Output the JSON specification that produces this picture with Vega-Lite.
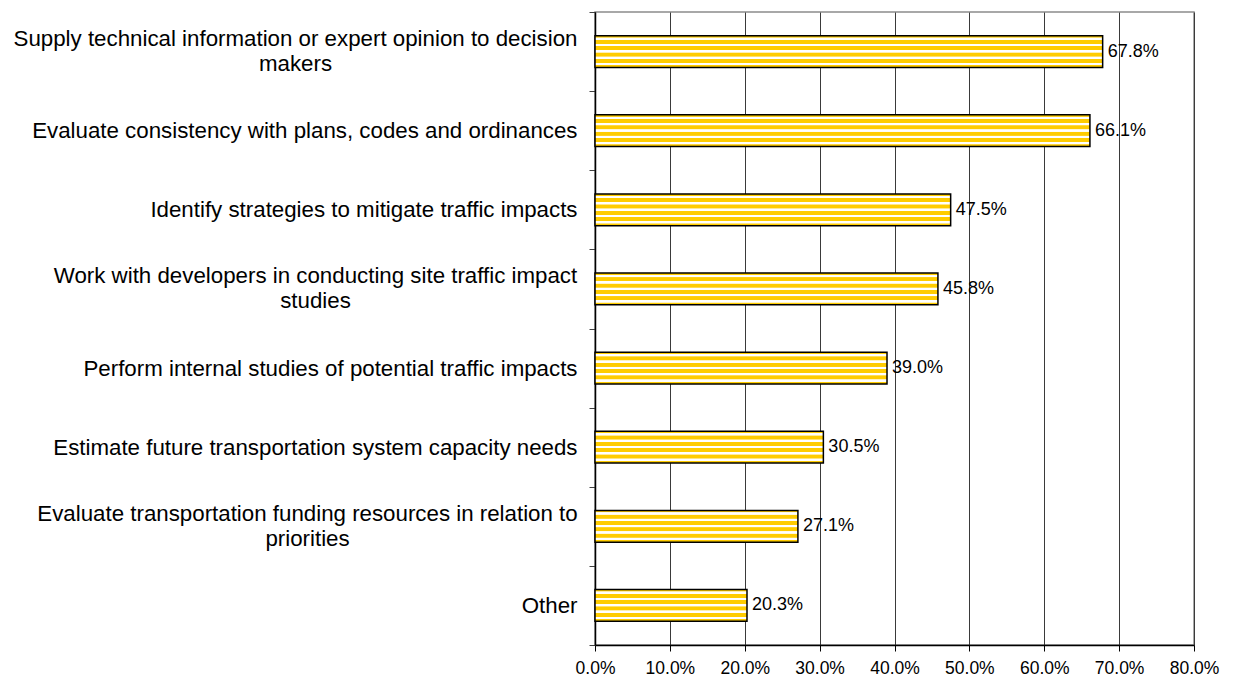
{
  "$schema": "https://vega.github.io/schema/vega-lite/v6.json",
  "width": 599,
  "height": 633,
  "autosize": "none",
  "padding": {"left": 595, "top": 12, "right": 40, "bottom": 34},
  "background": "white",
  "config": {
    "font": "Liberation Sans",
    "view": {"stroke": "#8c8c8c", "strokeWidth": 1.5}
  },
  "data": {
    "values": [
      {"task": "Supply technical information or expert opinion to decision\nmakers", "pct": 0.678},
      {"task": "Evaluate consistency with plans, codes and ordinances", "pct": 0.661},
      {"task": "Identify strategies to mitigate traffic impacts", "pct": 0.475},
      {"task": "Work with developers in conducting site traffic impact\nstudies", "pct": 0.458},
      {"task": "Perform internal studies of potential traffic impacts", "pct": 0.390},
      {"task": "Estimate future transportation system capacity needs", "pct": 0.305},
      {"task": "Evaluate transportation funding resources in relation to\npriorities", "pct": 0.271},
      {"task": "Other", "pct": 0.203}
    ]
  },
  "resolve": {"axis": {"y": "independent"}},
  "layer": [
    {
      "mark": {
        "type": "bar",
        "height": {"band": 0.4},
        "stroke": "#000000",
        "strokeWidth": 1.5,
        "fill": {
          "gradient": "linear",
          "x1": 0, "y1": 0, "x2": 0, "y2": 1,
          "stops": [
            {"offset": 0.0, "color": "#FFCC00"},
            {"offset": 0.05, "color": "#FFCC00"},
            {"offset": 0.065, "color": "#FFFFFF"},
            {"offset": 0.125, "color": "#FFFFFF"},
            {"offset": 0.14, "color": "#FFCC00"},
            {"offset": 0.25, "color": "#FFCC00"},
            {"offset": 0.265, "color": "#FFFFFF"},
            {"offset": 0.325, "color": "#FFFFFF"},
            {"offset": 0.34, "color": "#FFCC00"},
            {"offset": 0.45, "color": "#FFCC00"},
            {"offset": 0.465, "color": "#FFFFFF"},
            {"offset": 0.525, "color": "#FFFFFF"},
            {"offset": 0.54, "color": "#FFCC00"},
            {"offset": 0.65, "color": "#FFCC00"},
            {"offset": 0.665, "color": "#FFFFFF"},
            {"offset": 0.725, "color": "#FFFFFF"},
            {"offset": 0.74, "color": "#FFCC00"},
            {"offset": 0.85, "color": "#FFCC00"},
            {"offset": 0.865, "color": "#FFFFFF"},
            {"offset": 0.925, "color": "#FFFFFF"},
            {"offset": 0.94, "color": "#FFCC00"},
            {"offset": 1.0, "color": "#FFCC00"}
          ]
        }
      },
      "encoding": {
        "y": {
          "field": "task",
          "type": "nominal",
          "sort": null,
          "scale": {"paddingInner": 0, "paddingOuter": 0},
          "axis": {
            "orient": "left",
            "title": null,
            "labelExpr": "isString(datum.value) && indexof(datum.value, '\\n') < 0 ? datum.value : ''",
            "labelFontSize": 22.3,
            "labelColor": "#000000",
            "labelLimit": 0,
            "labelPadding": 12,
            "labelAlign": "right",
            "tickBand": "extent",
            "tickSize": 6,
            "tickColor": "#404040",
            "domainColor": "#000000",
            "domainWidth": 1.5,
            "grid": false
          }
        },
        "x": {
          "field": "pct",
          "type": "quantitative",
          "scale": {"domain": [0, 0.8], "nice": false, "zero": true},
          "axis": {
            "title": null,
            "format": ".1%",
            "values": [0, 0.1, 0.2, 0.3, 0.4, 0.5, 0.6, 0.7, 0.8],
            "labelFontSize": 17.5,
            "labelColor": "#000000",
            "labelPadding": 8,
            "tickSize": 6,
            "tickColor": "#000000",
            "domainColor": "#000000",
            "domainWidth": 1.5,
            "grid": true,
            "gridColor": "#3a3a3a",
            "gridWidth": 1,
            "labelFlush": false
          }
        }
      }
    },
    {
      "mark": {"type": "text", "align": "left", "baseline": "middle", "dx": 5, "fontSize": 18, "color": "#000000"},
      "encoding": {
        "y": {
          "field": "task",
          "type": "nominal",
          "sort": null,
          "axis": {
            "orient": "left",
            "title": null,
            "labelExpr": "isString(datum.value) && indexof(datum.value, 'Supply') == 0 ? split(datum.value, '\\n') : ''",
            "labelFontSize": 22.3,
            "labelColor": "#000000",
            "labelLimit": 0,
            "labelLineHeight": 25,
            "labelAlign": "center",
            "labelOffset": -12.5,
            "labelPadding": 300,
            "ticks": false,
            "tickSize": 0,
            "domain": false,
            "grid": false
          }
        },
        "x": {"field": "pct", "type": "quantitative"},
        "text": {"field": "pct", "type": "quantitative", "format": ".1%"}
      }
    },
    {
      "mark": {"type": "point", "opacity": 0},
      "encoding": {
        "y": {
          "field": "task",
          "type": "nominal",
          "sort": null,
          "axis": {
            "orient": "left",
            "title": null,
            "labelExpr": "isString(datum.value) && indexof(datum.value, 'Work') == 0 ? split(datum.value, '\\n') : ''",
            "labelFontSize": 22.3,
            "labelColor": "#000000",
            "labelLimit": 0,
            "labelLineHeight": 25,
            "labelAlign": "center",
            "labelOffset": -12.5,
            "labelPadding": 280,
            "ticks": false,
            "tickSize": 0,
            "domain": false,
            "grid": false
          }
        },
        "x": {"field": "pct", "type": "quantitative"}
      }
    },
    {
      "mark": {"type": "point", "opacity": 0},
      "encoding": {
        "y": {
          "field": "task",
          "type": "nominal",
          "sort": null,
          "axis": {
            "orient": "left",
            "title": null,
            "labelExpr": "isString(datum.value) && indexof(datum.value, 'Evaluate transportation') == 0 ? split(datum.value, '\\n') : ''",
            "labelFontSize": 22.3,
            "labelColor": "#000000",
            "labelLimit": 0,
            "labelLineHeight": 25,
            "labelAlign": "center",
            "labelOffset": -12.5,
            "labelPadding": 288,
            "ticks": false,
            "tickSize": 0,
            "domain": false,
            "grid": false
          }
        },
        "x": {"field": "pct", "type": "quantitative"}
      }
    }
  ]
}
